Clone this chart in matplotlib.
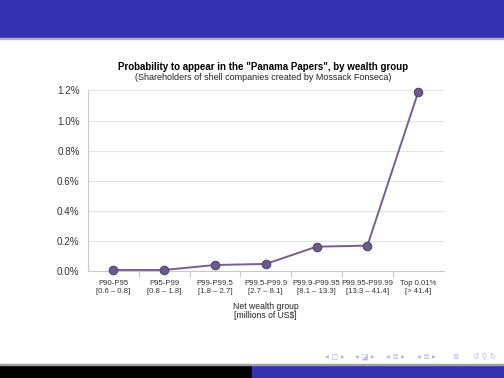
import matplotlib
matplotlib.use("Agg")
import matplotlib.pyplot as plt
from matplotlib.patches import Rectangle
from matplotlib.ticker import FuncFormatter, FixedLocator

plt.rcParams['font.family'] = ['Liberation Sans', 'DejaVu Sans']

# data
groups = ["P90-P95", "P95-P99", "P99-P99.5", "P99.5-P99.9",
          "P99.9-P99.95", "P99.95-P99.99", "Top 0.01%"]
ranges = ["[0.6 – 0.8]", "[0.8 – 1.8]", "[1.8 – 2.7]", "[2.7 – 8.1]",
          "[8.1 – 13.3]", "[13.3 – 41.4]", "[> 41.4]"]
prob_pct = [0.005, 0.005, 0.038, 0.045, 0.160, 0.167, 1.19]
y_ticks = [0.0, 0.2, 0.4, 0.6, 0.8, 1.0, 1.2]

W, H = 504, 378
fig = plt.figure(figsize=(W / 100, H / 100), dpi=100)

# beamer frame decorations
blue = "#3333b2"
fig.patches.append(Rectangle((0, 1 - 38 / H), 1, 38 / H, transform=fig.transFigure,
                             color=blue, zorder=0))
fig.patches.append(Rectangle((0, 1 - 39 / H), 1, 1 / H, transform=fig.transFigure,
                             color="#b0b0e0", zorder=0))
fig.patches.append(Rectangle((0, 0), 252 / W, 13 / H, transform=fig.transFigure,
                             color="black", zorder=0))
fig.patches.append(Rectangle((252 / W, 0), 252 / W, 13 / H, transform=fig.transFigure,
                             color=blue, zorder=0))
fig.patches.append(Rectangle((0, 13 / H), 1, 1 / H, transform=fig.transFigure,
                             color="#a0a0a0", zorder=0))
nav = ["◂ □ ▸", "◂ ◪ ▸", "◂ ≣ ▸", "◂ ≣ ▸", "≣", "↺ ⚲ ↻"]
nav_x = [335, 365, 395, 426, 455, 485]
for sym, nx in zip(nav, nav_x):
    fig.text(nx / W, 1 - 356.5 / H, sym, fontsize=5.5, color="#b8b8dc",
             family=['DejaVu Sans'], va="center", ha="center")

ax = fig.add_axes([88 / W, 1 - 270.7 / H, 355.6 / W, 180.2 / H])
x = list(range(len(groups)))
ax.plot(x, prob_pct, color="#735f96", lw=1.4, marker="o", ms=6.2,
        mfc="#6b5a8c", mec="#4e4070", mew=0.7, zorder=3, clip_on=False)

ax.set_xlim(-0.5, len(groups) - 0.5)
ax.set_ylim(0, 1.2)
ax.yaxis.set_major_locator(FixedLocator(y_ticks))
ax.yaxis.set_major_formatter(FuncFormatter(lambda v, p: f"{v:.1f}%"))
ax.grid(axis="y", color="#e4e4e4", lw=0.8)
ax.set_axisbelow(True)

ax.set_xticks([i + 0.5 for i in range(len(groups) - 1)])
ax.set_xticklabels([])
ax.set_xticks(x, minor=True)
ax.set_xticklabels([f"{g}\n{r}" for g, r in zip(groups, ranges)], minor=True)
ax.tick_params(axis="x", which="major", length=4, color="#c8c8c8", width=0.8)
ax.tick_params(axis="x", which="minor", length=0, pad=6.5, labelsize=5.6,
               labelcolor="#333333")
ax.tick_params(axis="y", length=0, pad=6, labelsize=7.1, labelcolor="#333333")

for s in ("top", "right"):
    ax.spines[s].set_visible(False)
ax.spines["left"].set_color("#c8c8c8")
ax.spines["bottom"].set_color("#c8c8c8")
ax.spines["left"].set_linewidth(0.8)
ax.spines["bottom"].set_linewidth(0.8)

ax.set_xlabel("Net wealth group\n[millions of US$]", fontsize=6.2,
              color="#222222", labelpad=5.5, linespacing=1.0)

fig.text(263 / W, 1 - 67 / H,
         'Probability to appear in the "Panama Papers", by wealth group',
         fontsize=7.0, fontweight="bold", ha="center", va="center")
fig.text(263 / W, 1 - 77 / H,
         "(Shareholders of shell companies created by Mossack Fonseca)",
         fontsize=6.5, ha="center", va="center", color="#222222")

fig.savefig("out.png", dpi=100)
